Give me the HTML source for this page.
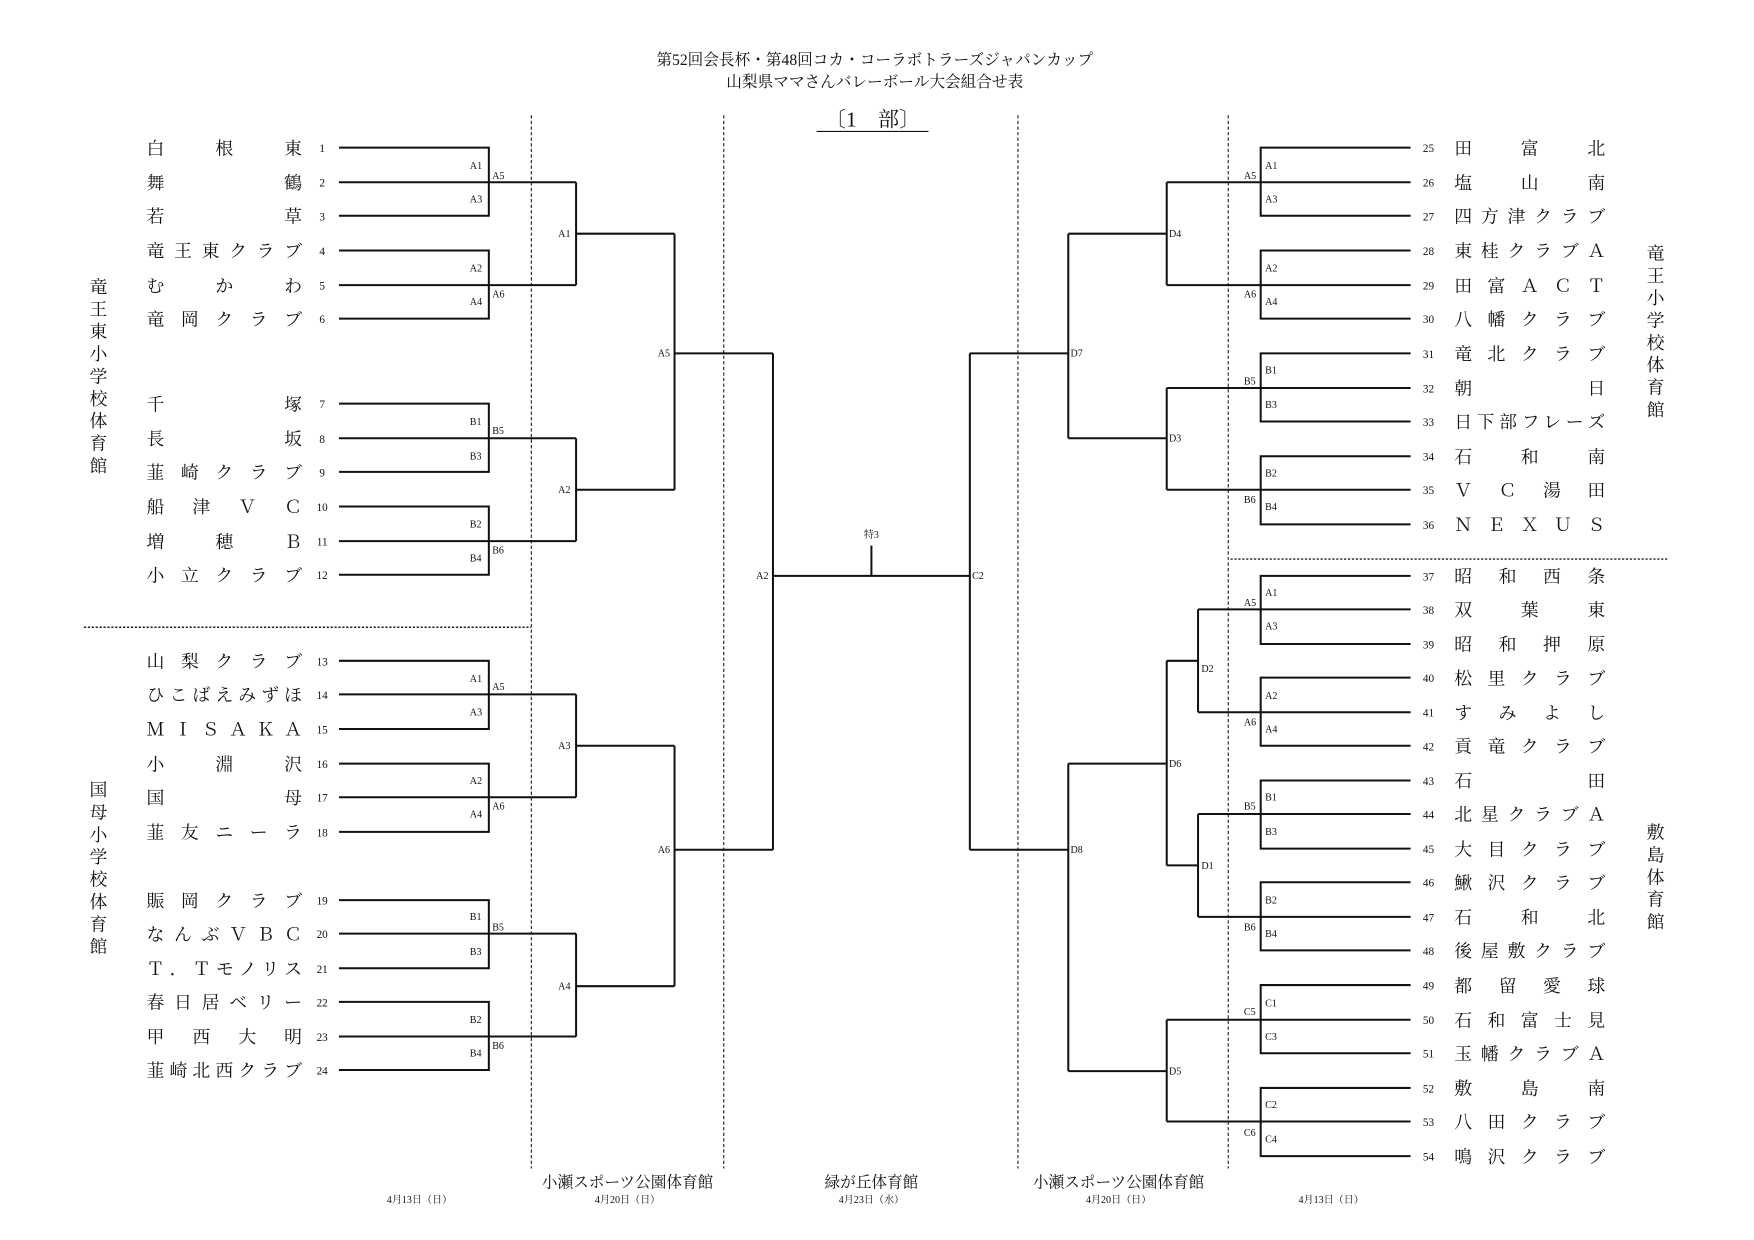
<!DOCTYPE html>
<html><head><meta charset="utf-8"><style>
html,body{margin:0;padding:0;background:#fff}
svg{display:block}
text{font-family:"Liberation Serif","Noto Serif CJK SC",serif;fill:#111}
.n{font-size:16px}
.num{font-size:10px}
.l{font-size:9px}
.t{font-size:14px}
.v{font-size:16px}
.b{font-size:12px}
</style></head><body>
<svg width="1754" height="1240" viewBox="0 0 1568 1109" preserveAspectRatio="none" xmlns="http://www.w3.org/2000/svg">
<text class="t" x="782" y="58" text-anchor="middle">第52回会長杯・第48回コカ・コーラボトラーズジャパンカップ</text>
<text class="t" x="782" y="78" text-anchor="middle">山梨県ママさんバレーボール大会組合せ表</text>
<text x="780" y="113" text-anchor="middle" style="font-size:19px">〔1　部〕</text>
<line x1="730" y1="117.5" x2="830" y2="117.5" stroke="#111" stroke-width="1"/>
<g stroke="#222" stroke-width="1" stroke-dasharray="3,2">
<line x1="475" y1="103" x2="475" y2="1045"/><line x1="647" y1="103" x2="647" y2="1045"/>
<line x1="910" y1="103" x2="910" y2="1045"/><line x1="1098" y1="103" x2="1098" y2="1045"/>
</g>
<g stroke="#222" stroke-width="1.3" stroke-dasharray="2,1.5">
<line x1="75" y1="561" x2="475" y2="561"/><line x1="1100" y1="500" x2="1492" y2="500"/>
</g>
<g fill="none" stroke="#111" stroke-width="1.8">
<path d="M303 132H437V193H303M303 163H515M303 224H437V285H303M303 255H515M303 361H437V422H303M303 392H515M303 453H437V514H303M303 484H515M303 591H437V652H303M303 621H515M303 683H437V744H303M303 713H515M303 805H437V866H303M303 835H515M303 896H437V957H303M303 927H515"/>
<path d="M515 163V255M515 209H603M515 392V484M515 438H603M515 621V713M515 667H603M515 835V927M515 882H603M603 209V438M603 316H691M603 667V882M603 760H691M691 316V760M691 515H867M779 515V488"/>
<path d="M1261 132H1127V193H1261M1261 163H1043M1261 224H1127V285H1261M1261 255H1043M1261 316H1127V377H1261M1261 347H1043M1261 408H1127V469H1261M1261 438H1043M1043 163V255M1043 209H955M1043 347V438M1043 392H955M955 209V392M955 316H867M867 316V760"/>
<path d="M1261 515H1127V576H1261M1261 545H1071M1261 606H1127V667H1261M1261 637H1071M1071 545V637M1071 591H1043M1261 698H1127V759H1261M1261 728H1071M1261 789H1127V850H1261M1261 820H1071M1071 728V820M1071 774H1043M1043 591V774M1043 683H955M1261 881H1127V942H1261M1261 912H1043M1261 973H1127V1034H1261M1261 1003H1043M1043 912V1003M1043 958H955M955 683V958M955 760H867"/>
</g>
<text class="l" x="779" y="481" text-anchor="middle">特3</text>
<g class="l">
<text x="420" y="151">A1</text><text x="440" y="160">A5</text><text x="420" y="181">A3</text>
<text x="420" y="243">A2</text><text x="440" y="266">A6</text><text x="420" y="273">A4</text>
<text x="420" y="380">B1</text><text x="440" y="388">B5</text><text x="420" y="411">B3</text>
<text x="420" y="472">B2</text><text x="440" y="495">B6</text><text x="420" y="502">B4</text>
<text x="420" y="610">A1</text><text x="440" y="617">A5</text><text x="420" y="640">A3</text>
<text x="420" y="701">A2</text><text x="440" y="724">A6</text><text x="420" y="731">A4</text>
<text x="420" y="823">B1</text><text x="440" y="832">B5</text><text x="420" y="854">B3</text>
<text x="420" y="915">B2</text><text x="440" y="938">B6</text><text x="420" y="945">B4</text>
<text x="499" y="212">A1</text><text x="499" y="441">A2</text><text x="499" y="670">A3</text><text x="499" y="885">A4</text>
<text x="588" y="319">A5</text><text x="588" y="763">A6</text><text x="676" y="518">A2</text>
<text x="1112" y="160">A5</text><text x="1131" y="151">A1</text><text x="1131" y="181">A3</text>
<text x="1131" y="243">A2</text><text x="1112" y="266">A6</text><text x="1131" y="273">A4</text>
<text x="1112" y="344">B5</text><text x="1131" y="334">B1</text><text x="1131" y="365">B3</text>
<text x="1131" y="426">B2</text><text x="1112" y="450">B6</text><text x="1131" y="456">B4</text>
<text x="1045" y="212">D4</text><text x="1045" y="395">D3</text><text x="957" y="319">D7</text><text x="869" y="518">C2</text>
<text x="1112" y="542">A5</text><text x="1131" y="533">A1</text><text x="1131" y="563">A3</text>
<text x="1131" y="625">A2</text><text x="1112" y="649">A6</text><text x="1131" y="655">A4</text>
<text x="1074" y="601">D2</text>
<text x="1112" y="724">B5</text><text x="1131" y="716">B1</text><text x="1131" y="747">B3</text>
<text x="1131" y="808">B2</text><text x="1112" y="832">B6</text><text x="1131" y="838">B4</text>
<text x="1074" y="777">D1</text><text x="1045" y="686">D6</text>
<text x="1112" y="908">C5</text><text x="1131" y="900">C1</text><text x="1131" y="930">C3</text>
<text x="1131" y="991">C2</text><text x="1112" y="1016">C6</text><text x="1131" y="1022">C4</text>
<text x="1045" y="961">D5</text><text x="957" y="763">D8</text>
</g>
<g class="n">
<text x="131" y="138" textLength="139" lengthAdjust="spacing">白根東</text>
<text x="131" y="169" textLength="139" lengthAdjust="spacing">舞鶴</text>
<text x="131" y="199" textLength="139" lengthAdjust="spacing">若草</text>
<text x="131" y="230" textLength="139" lengthAdjust="spacing">竜王東クラブ</text>
<text x="131" y="261" textLength="139" lengthAdjust="spacing">むかわ</text>
<text x="131" y="291" textLength="139" lengthAdjust="spacing">竜岡クラブ</text>
<text x="131" y="367" textLength="139" lengthAdjust="spacing">千塚</text>
<text x="131" y="398" textLength="139" lengthAdjust="spacing">長坂</text>
<text x="131" y="428" textLength="139" lengthAdjust="spacing">韮崎クラブ</text>
<text x="131" y="459" textLength="139" lengthAdjust="spacing">船津ＶＣ</text>
<text x="131" y="490" textLength="139" lengthAdjust="spacing">増穂Ｂ</text>
<text x="131" y="520" textLength="139" lengthAdjust="spacing">小立クラブ</text>
<text x="131" y="597" textLength="139" lengthAdjust="spacing">山梨クラブ</text>
<text x="131" y="627" textLength="139" lengthAdjust="spacing">ひこばえみずほ</text>
<text x="131" y="658" textLength="139" lengthAdjust="spacing">ＭＩＳＡＫＡ</text>
<text x="131" y="689" textLength="139" lengthAdjust="spacing">小淵沢</text>
<text x="131" y="719" textLength="139" lengthAdjust="spacing">国母</text>
<text x="131" y="750" textLength="139" lengthAdjust="spacing">韮友ニーラ</text>
<text x="131" y="811" textLength="139" lengthAdjust="spacing">賑岡クラブ</text>
<text x="131" y="841" textLength="139" lengthAdjust="spacing">なんぶＶＢＣ</text>
<text x="131" y="872" textLength="139" lengthAdjust="spacing">Ｔ．Ｔモノリス</text>
<text x="131" y="902" textLength="139" lengthAdjust="spacing">春日居ベリー</text>
<text x="131" y="933" textLength="139" lengthAdjust="spacing">甲西大明</text>
<text x="131" y="963" textLength="139" lengthAdjust="spacing">韮崎北西クラブ</text>
<text x="1300" y="138" textLength="135" lengthAdjust="spacing">田富北</text>
<text x="1300" y="169" textLength="135" lengthAdjust="spacing">塩山南</text>
<text x="1300" y="199" textLength="135" lengthAdjust="spacing">四方津クラブ</text>
<text x="1300" y="230" textLength="135" lengthAdjust="spacing">東桂クラブＡ</text>
<text x="1300" y="261" textLength="135" lengthAdjust="spacing">田富ＡＣＴ</text>
<text x="1300" y="291" textLength="135" lengthAdjust="spacing">八幡クラブ</text>
<text x="1300" y="322" textLength="135" lengthAdjust="spacing">竜北クラブ</text>
<text x="1300" y="353" textLength="135" lengthAdjust="spacing">朝日</text>
<text x="1300" y="383" textLength="135" lengthAdjust="spacing">日下部フレーズ</text>
<text x="1300" y="414" textLength="135" lengthAdjust="spacing">石和南</text>
<text x="1300" y="444" textLength="135" lengthAdjust="spacing">ＶＣ湯田</text>
<text x="1300" y="475" textLength="135" lengthAdjust="spacing">ＮＥＸＵＳ</text>
<text x="1300" y="521" textLength="135" lengthAdjust="spacing">昭和西条</text>
<text x="1300" y="551" textLength="135" lengthAdjust="spacing">双葉東</text>
<text x="1300" y="582" textLength="135" lengthAdjust="spacing">昭和押原</text>
<text x="1300" y="612" textLength="135" lengthAdjust="spacing">松里クラブ</text>
<text x="1300" y="643" textLength="135" lengthAdjust="spacing">すみよし</text>
<text x="1300" y="673" textLength="135" lengthAdjust="spacing">貢竜クラブ</text>
<text x="1300" y="704" textLength="135" lengthAdjust="spacing">石田</text>
<text x="1300" y="734" textLength="135" lengthAdjust="spacing">北星クラブＡ</text>
<text x="1300" y="765" textLength="135" lengthAdjust="spacing">大目クラブ</text>
<text x="1300" y="795" textLength="135" lengthAdjust="spacing">鰍沢クラブ</text>
<text x="1300" y="826" textLength="135" lengthAdjust="spacing">石和北</text>
<text x="1300" y="856" textLength="135" lengthAdjust="spacing">後屋敷クラブ</text>
<text x="1300" y="887" textLength="135" lengthAdjust="spacing">都留愛球</text>
<text x="1300" y="918" textLength="135" lengthAdjust="spacing">石和富士見</text>
<text x="1300" y="948" textLength="135" lengthAdjust="spacing">玉幡クラブＡ</text>
<text x="1300" y="979" textLength="135" lengthAdjust="spacing">敷島南</text>
<text x="1300" y="1009" textLength="135" lengthAdjust="spacing">八田クラブ</text>
<text x="1300" y="1040" textLength="135" lengthAdjust="spacing">鳴沢クラブ</text>
</g>
<g class="num" text-anchor="middle">
<text x="288" y="136">1</text><text x="288" y="167">2</text><text x="288" y="197">3</text><text x="288" y="228">4</text><text x="288" y="259">5</text><text x="288" y="289">6</text>
<text x="288" y="365">7</text><text x="288" y="396">8</text><text x="288" y="426">9</text><text x="288" y="457">10</text><text x="288" y="488">11</text><text x="288" y="518">12</text>
<text x="288" y="595">13</text><text x="288" y="625">14</text><text x="288" y="656">15</text><text x="288" y="687">16</text><text x="288" y="717">17</text><text x="288" y="748">18</text>
<text x="288" y="809">19</text><text x="288" y="839">20</text><text x="288" y="870">21</text><text x="288" y="900">22</text><text x="288" y="931">23</text><text x="288" y="961">24</text>
<text x="1277" y="136">25</text><text x="1277" y="167">26</text><text x="1277" y="197">27</text><text x="1277" y="228">28</text><text x="1277" y="259">29</text><text x="1277" y="289">30</text>
<text x="1277" y="320">31</text><text x="1277" y="351">32</text><text x="1277" y="381">33</text><text x="1277" y="412">34</text><text x="1277" y="442">35</text><text x="1277" y="473">36</text>
<text x="1277" y="519">37</text><text x="1277" y="549">38</text><text x="1277" y="580">39</text><text x="1277" y="610">40</text><text x="1277" y="641">41</text><text x="1277" y="671">42</text>
<text x="1277" y="702">43</text><text x="1277" y="732">44</text><text x="1277" y="763">45</text><text x="1277" y="793">46</text><text x="1277" y="824">47</text><text x="1277" y="854">48</text>
<text x="1277" y="885">49</text><text x="1277" y="916">50</text><text x="1277" y="946">51</text><text x="1277" y="977">52</text><text x="1277" y="1007">53</text><text x="1277" y="1038">54</text>
</g>
<g class="v" text-anchor="middle">
<text x="88" y="262">竜</text><text x="88" y="282">王</text><text x="88" y="302">東</text><text x="88" y="322">小</text><text x="88" y="342">学</text><text x="88" y="362">校</text><text x="88" y="382">体</text><text x="88" y="402">育</text><text x="88" y="422">館</text>
<text x="88" y="712">国</text><text x="88" y="732">母</text><text x="88" y="752">小</text><text x="88" y="772">学</text><text x="88" y="792">校</text><text x="88" y="812">体</text><text x="88" y="832">育</text><text x="88" y="852">館</text>
<text x="1480" y="232">竜</text><text x="1480" y="252">王</text><text x="1480" y="272">小</text><text x="1480" y="292">学</text><text x="1480" y="312">校</text><text x="1480" y="332">体</text><text x="1480" y="352">育</text><text x="1480" y="372">館</text>
<text x="1480" y="750">敷</text><text x="1480" y="770">島</text><text x="1480" y="790">体</text><text x="1480" y="810">育</text><text x="1480" y="830">館</text>
</g>
<g text-anchor="middle">
<text class="t" x="561" y="1062">小瀬スポーツ公園体育館</text>
<text class="t" x="779" y="1062">緑が丘体育館</text>
<text class="t" x="1000" y="1062">小瀬スポーツ公園体育館</text>
<text class="l" x="375" y="1076">4月13日（日）</text>
<text class="l" x="561" y="1076">4月20日（日）</text>
<text class="l" x="779" y="1076">4月23日（水）</text>
<text class="l" x="1000" y="1076">4月20日（日）</text>
<text class="l" x="1190" y="1076">4月13日（日）</text>
</g>
</svg>
</body></html>
